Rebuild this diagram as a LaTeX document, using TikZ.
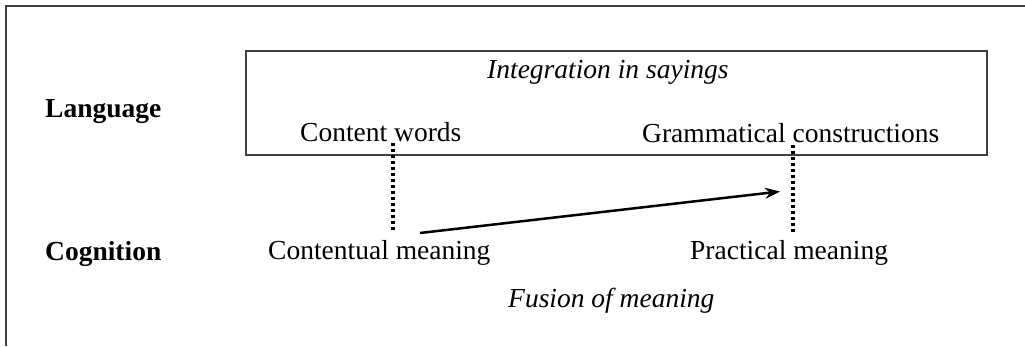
\documentclass[tikz,border=0pt]{standalone}
\usepackage{fontspec}
\setmainfont{Liberation Serif}
\usetikzlibrary{arrows.meta}
\begin{document}
\begin{tikzpicture}[x=1pt,y=-1pt,
  txt/.style={anchor=base west,inner sep=0pt,font=\fontsize{27.5}{33}\selectfont},
  lbl/.style={txt,font=\fontsize{27.5}{33}\selectfont\bfseries},
  itl/.style={txt,font=\fontsize{27.5}{33}\selectfont\itshape},
  frame/.style={draw=black!75,line width=2pt},
  dotline/.style={line width=3.5pt,dash pattern=on 3pt off 3pt},
  arr/.style={line width=2.5pt,-{Stealth[length=15pt,width=11pt]}}]
\useasboundingbox (0,0) rectangle (1025,346);
% outer frame (only top and left edges visible)
\draw[frame] (6,346) -- (6,5.5) -- (1025,5.5);
% inner box
\draw[frame] (246,51) rectangle (987,155);
% texts
\node[itl] (integ) at (487,78) {Integration in sayings};
\node[lbl] (lang) at (45,117) {Language};
\node[txt] (cw) at (300,141) {Content words};
\node[txt] (gc) at (642,142) {Grammatical constructions};
\node[lbl] (cog) at (45,260) {Cognition};
\node[txt] (cm) at (268,259) {Contentual meaning};
\node[txt] (pm) at (690,259) {Practical meaning};
\node[itl] (fus) at (508,307) {Fusion of meaning};
% dotted connectors
\coordinate (d1a) at (393,143);
\coordinate (d1b) at (393,232);
\coordinate (d2a) at (793,145);
\coordinate (d2b) at (793,232);
\draw[dotline] (d1a) -- (d1b);
\draw[dotline] (d2a) -- (d2b);
% arrow
\coordinate (a1) at (420,233);
\coordinate (a2) at (780,191.5);
\draw[arr] (a1) -- (a2);
\end{tikzpicture}
\end{document}
